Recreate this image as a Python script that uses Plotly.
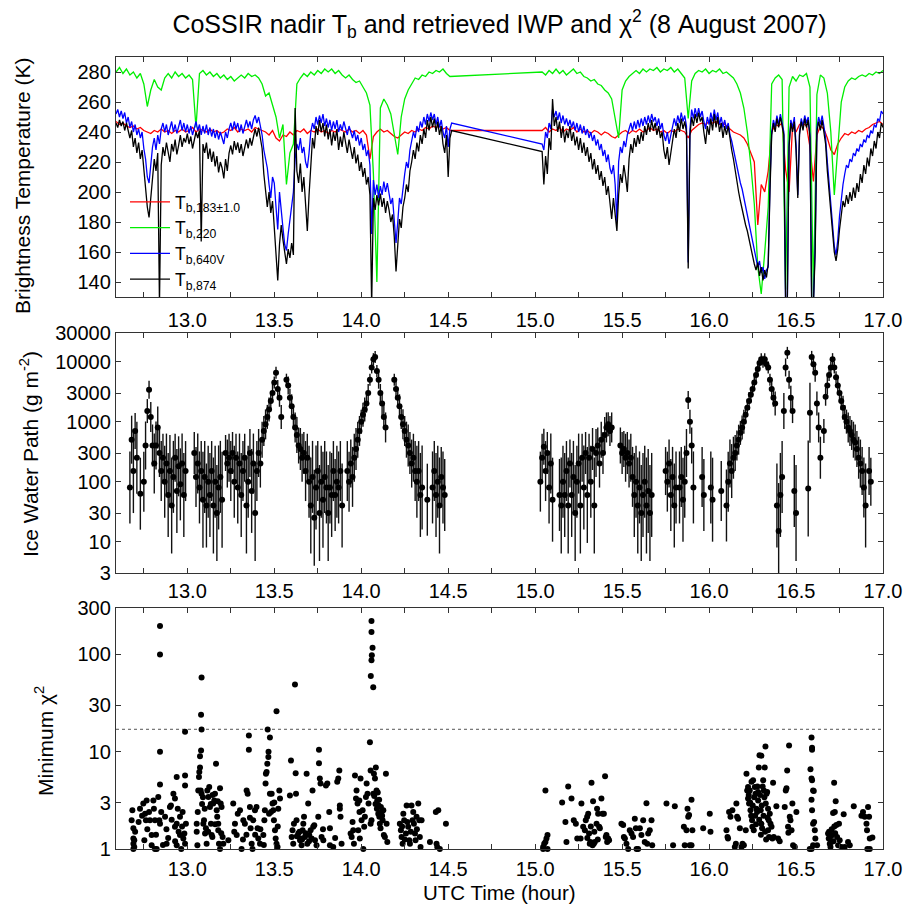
import numpy as np
import plotly.graph_objects as go

# ---------------------------------------------------------------------------
# Nadir brightness temperatures (K).  Two flight legs, uniform sampling.
# ---------------------------------------------------------------------------
SEG1_START = 12.59
SEG2_START = 15.04
STEP_FINE = 0.01     # 640V / 874 GHz channels
STEP_COARSE = 0.02   # 183 / 220 GHz channels

tb874_seg1 = [
    246, 243, 248, 244, 247, 241, 246, 240, 236, 241,
    230, 236, 226, 233, 222, 228, 214, 205, 190, 183,
    196, 212, 222, 214, 226, 125, 218, 230, 224, 233,
    226, 220, 232, 227, 235, 225, 231, 238, 230, 236,
    233, 239, 232, 237, 229, 234, 240, 236, 241, 167,
    232, 226, 233, 222, 229, 220, 227, 217, 224, 213,
    220, 216, 209, 222, 214, 226, 231, 225, 234, 228,
    233, 226, 232, 224, 230, 235, 229, 236, 231, 238,
    242, 237, 243, 236, 229, 212, 198, 190, 200, 186,
    194, 176, 160, 141, 165, 178, 168, 160, 152, 162,
    156, 166, 158, 256, 214, 206, 219, 200, 210, 192,
    174, 198, 222, 236, 229, 244, 238, 248, 240, 246,
    237, 245, 235, 242, 231, 240, 234, 242, 228, 237,
    230, 240, 233, 226, 235, 229, 222, 230, 219, 225,
    214, 220, 210, 216, 205, 210, 198, 125, 196, 188,
    198, 191, 199, 190, 196, 186, 194, 188, 180, 185,
    170, 147, 168, 182, 176, 190, 196, 205, 200, 214,
    220, 228, 222, 233, 227, 238, 232, 242, 236, 248,
    241, 250, 243, 249, 240, 247, 238, 244, 232, 226,
    238, 210, 236, 241]
tb874_seg2 = [
    227, 205, 224, 212, 236, 228, 262, 244, 250, 240,
    247, 236, 244, 233, 241, 236, 244, 234, 240, 231,
    237, 228, 236, 226, 233, 224, 230, 220, 226, 215,
    222, 212, 218, 208, 214, 204, 210, 198, 204, 190,
    182, 196, 186, 174, 198, 212, 206, 218, 210, 200,
    222, 232, 226, 236, 230, 238, 232, 240, 234, 244,
    238, 246, 240, 248, 241, 246, 238, 244, 236, 240,
    228, 222, 230, 218, 226, 234, 242, 236, 246, 240,
    249, 242, 247, 240, 149, 238, 250, 244, 252, 246,
    253, 247, 250, 240, 232, 244, 238, 249, 241, 252,
    243, 250, 240, 246, 236, 244, 238, 244, 234, 228,
    222, 214, 206, 200, 194, 188, 184, 178, 174, 168,
    162, 157, 152, 148, 153, 144, 150, 141, 148, 143,
    152, 200, 238, 246, 240, 249, 243, 250, 244, 238,
    125, 128, 230, 246, 240, 247, 228, 196, 238, 247,
    241, 249, 243, 248, 236, 125, 125, 160, 240, 247,
    241, 248, 240, 232, 214, 200, 186, 172, 160, 154,
    162, 175, 186, 194, 190, 198, 192, 200, 194, 203,
    196, 206, 200, 212, 206, 218, 212, 223, 217, 229,
    224, 234, 229, 240, 236, 246, 243]

tb640_seg1 = [
    252, 255, 250, 254, 249, 253, 246, 250, 243, 247,
    240, 245, 238, 242, 236, 240, 229, 222, 210, 206,
    218, 230, 236, 228, 238, 232, 242, 246, 240, 245,
    238, 243, 247, 240, 245, 239, 244, 248, 241, 246,
    240, 245, 239, 244, 238, 243, 247, 241, 245, 238,
    244, 239, 245, 238, 243, 237, 242, 236, 241, 235,
    240, 236, 232, 240, 236, 242, 246, 241, 247, 242,
    246, 240, 245, 239, 244, 248, 243, 247, 242, 248,
    251, 246, 250, 244, 238, 228, 222, 216, 205, 196,
    210, 206, 190, 175, 200, 190, 176, 165, 161, 172,
    182, 190, 200, 222, 232, 228, 236, 226, 230, 220,
    216, 226, 240, 246, 242, 250, 245, 251, 246, 252,
    244, 249, 243, 248, 241, 247, 242, 248, 240, 245,
    241, 247, 242, 238, 244, 240, 236, 241, 234, 238,
    231, 236, 228, 232, 224, 228, 218, 172, 208, 198,
    205, 196, 204, 198, 207, 200, 206, 199, 192, 196,
    182, 166, 180, 196, 192, 204, 212, 220, 216, 228,
    234, 240, 236, 244, 240, 247, 243, 250, 245, 252,
    247, 253, 248, 252, 245, 250, 243, 248, 240, 236,
    244, 230, 242, 246]
tb640_seg2 = [
    232, 228, 240, 236, 246, 242, 255, 250, 254, 248,
    253, 246, 251, 245, 249, 244, 248, 243, 247, 241,
    246, 240, 245, 239, 244, 238, 242, 236, 240, 234,
    238, 231, 235, 228, 232, 224, 228, 220, 225, 216,
    212, 218, 205, 180, 220, 230, 226, 234, 230, 238,
    242, 246, 241, 247, 242, 248, 243, 249, 244, 250,
    245, 251, 246, 252, 247, 250, 244, 249, 242, 246,
    238, 234, 240, 232, 238, 244, 249, 244, 251, 246,
    253, 247, 251, 244, 153, 242, 255, 249, 256, 250,
    256, 250, 254, 247, 242, 250, 245, 253, 247, 255,
    248, 253, 245, 250, 243, 248, 242, 246, 238, 234,
    228, 222, 216, 212, 206, 202, 196, 190, 184, 178,
    172, 166, 160, 156, 150, 154, 146, 150, 142, 148,
    150, 205, 240, 248, 243, 251, 245, 252, 246, 240,
    125, 126, 232, 248, 243, 250, 232, 198, 240, 249,
    244, 251, 246, 250, 238, 125, 126, 165, 243, 250,
    245, 251, 244, 236, 220, 206, 192, 176, 164, 158,
    168, 184, 196, 205, 212, 218, 216, 222, 220, 226,
    224, 229, 227, 232, 230, 235, 233, 238, 236, 241,
    239, 245, 243, 249, 247, 254, 252]

tb183_seg1 = [
    247, 245, 246, 244, 243, 244, 242, 243, 241, 240,
    239, 241, 240, 242, 240, 241, 239, 241, 240, 242,
    240, 241, 243, 240, 242, 241, 240, 242, 240, 241,
    239, 240, 242, 241, 243, 240, 242, 241, 242, 240,
    243, 242, 241, 240, 238, 241, 236, 234, 238, 237,
    240, 238, 241, 240, 242, 239, 241, 240, 242, 240,
    241, 239, 241, 240, 242, 241, 240, 242, 240, 241,
    239, 241, 238, 222, 237, 240, 242, 240, 241, 239,
    237, 236, 238, 240, 239, 241, 240, 242, 241, 243,
    242, 244, 243, 244, 242, 243, 241]
tb183_seg2 = [
    241, 243, 240, 242, 241, 243, 240, 242, 241, 243,
    240, 242, 240, 241, 239, 241, 240, 238, 240, 239,
    237, 236, 238, 240, 241, 239, 241, 240, 242, 240,
    241, 243, 241, 242, 240, 241, 239, 241, 240, 242,
    241, 240, 236, 241, 243, 245, 246, 245, 247, 246,
    247, 245, 246, 244, 242, 240, 239, 238, 236, 232,
    226, 220, 178, 205, 200, 214, 240, 245, 244, 246,
    215, 200, 244, 240, 245, 246, 244, 230, 207, 238,
    244, 242, 236, 228, 225, 232, 236, 239, 238, 240,
    239, 241, 240, 242, 243, 245, 246, 247, 245]

tb220_seg1 = [
    280, 283, 279, 282, 278, 280, 276, 279, 272, 257,
    268, 275, 270, 268, 276, 279, 276, 280, 277, 279,
    276, 278, 275, 243, 279, 281, 278, 280, 277, 279,
    276, 278, 275, 277, 274, 276, 278, 276, 279, 277,
    278, 276, 272, 264, 266, 258, 250, 236, 245, 205,
    226, 232, 272, 276, 279, 277, 280, 278, 281, 279,
    282, 280, 282, 279, 281, 278, 276, 278, 275, 273,
    274, 270, 266, 258, 212, 140, 256, 262, 258, 252,
    238, 225, 250, 262, 268, 272, 276, 275, 278, 277,
    280, 279, 281, 280, 282, 279, 277]
tb220_seg2 = [
    280, 278, 281, 279, 282, 279, 281, 278, 280, 282,
    279, 280, 277, 276, 274, 275, 272, 271, 268, 266,
    262, 250, 236, 268, 274, 277, 279, 281, 279, 282,
    280, 282, 281, 283, 280, 282, 281, 283, 280, 282,
    279, 276, 249, 274, 279, 281, 280, 282, 279, 281,
    280, 282, 279, 280, 278, 276, 272, 266, 256, 240,
    218, 192, 150, 132, 160, 190, 272, 276, 278, 275,
    135, 270, 277, 274, 278, 277, 279, 270, 130, 265,
    278, 276, 266, 240, 198, 230, 260, 270, 274, 276,
    275, 277, 278, 277, 279, 278, 280, 279, 281]

# ---------------------------------------------------------------------------
# Retrieved ice water path (g m-2) and its uncertainty (decades, +/-).
# None marks samples with no retrieval.
# ---------------------------------------------------------------------------
IWP_SEG1_START = 12.67
IWP_SEG2_START = 15.03
IWP_STEP = 0.01
N = None

iwp_seg1 = [
    80, 500, 150, 700, 250, N, 63, N, 100, 400,
    1500, 3400, 1200, 400, 200, 400, 800, 300, 150, 250,
    100, 200, 60, 150, 40, 120, 250, 70, 180, 90,
    200, 60, 150, N, N, N, N, 300, 120, 200,
    80, 150, 50, 120, 40, 100, 60, 150, 40, 100,
    30, 80, 120, 50, N, 300, 200, 250, 150, 300,
    100, 250, 80, 200, 60, 150, 250, 40, 100, 300,
    70, 200, 30, 150, 300, 200, 500, 700, 900, 1200,
    1600, 2200, 3000, 4500, 6500, 3500, 2500, 1200, N, N,
    5000, 4000, 2500, 1800, 1200, 800, 600, 400, 350, 250,
    300, 150, 250, 100, 40, 120, 25, 80, 150, 30,
    100, 50, 120, 80, 30, 80, 60, 150, 60, 100,
    80, 150, 40, N, N, 150, 100, 200, 120, 250,
    350, 500, 700, 1000, 1300, 1600, 2000, 3000, 5000, 8000,
    11000, 12000, 7000, 5000, 3000, 2000, 1200, 800, N, N,
    N, N, 5000, 3500, 2500, 1800, 1200, 900, 700, 500,
    400, 300, 200, 250, 150, 100, 150, 60, 80, N,
    N, 50, N, N, 80, 150, 60, 100, 40, 120,
    80, 60]
iwp_seg1_dex = [
    .6, .4, .7, .3, .6, N, .6, N, .5, .4,
    .2, .15, .25, .35, .5, .4, .35, .4, .5, .4,
    .6, .5, .7, .6, .8, .6, .4, .7, .5, .6,
    .5, .7, .5, N, N, N, N, .35, .5, .5,
    .6, .5, .8, .6, .7, .6, .7, .5, .8, .6,
    .8, .7, .6, .8, N, .3, .4, .4, .5, .35,
    .6, .4, .6, .5, .7, .5, .4, .8, .6, .4,
    .7, .5, .8, .5, .4, .4, .3, .25, .25, .2,
    .2, .15, .15, .1, .1, .15, .15, .2, N, N,
    .1, .15, .15, .2, .2, .25, .3, .3, .35, .4,
    .35, .5, .4, .6, .8, .6, .8, .7, .5, .8,
    .6, .8, .6, .6, .8, .6, .7, .5, .6, .6,
    .6, .5, .7, N, N, .5, .5, .4, .5, .4,
    .35, .3, .25, .2, .2, .2, .15, .15, .1, .1,
    .1, .1, .1, .15, .15, .2, .2, .25, N, N,
    N, N, .1, .15, .15, .2, .2, .25, .25, .3,
    .35, .35, .4, .4, .5, .6, .5, .7, .7, N,
    N, .6, N, N, .6, .5, .7, .6, .8, .5,
    .6, .6]

iwp_seg2 = [
    100, 250, 380, 150, 300, 80, 200, 50, N, N,
    N, 60, 40, 100, 60, 150, 40, 200, 60, 120,
    30, 100, 200, 40, 250, 80, 300, 60, 250, 100,
    350, 40, 300, 400, 200, 500, 300, 600, 800, 900,
    700, 800, N, N, N, N, 400, 300, 350, 250,
    300, 200, 250, 120, 60, 100, 40, 80, 30, 60,
    100, 40, 70, 30, 60, N, N, N, N, N,
    N, N, 150, 100, 200, 60, 120, 40, 80, N,
    80, 120, 50, 100, 300, 2300, 1000, 400, 80, N,
    N, N, N, 120, 60, N, N, N, 80, 50,
    N, N, N, N, 70, N, N, 40, 100, 200,
    150, 250, 300, 400, 500, 650, 800, 1000, 1300, 1700,
    2200, 2800, 3500, 4500, 6000, 7500, 9500, 11000, 10000, 11000,
    9000, 8000, 5000, 3500, 2500, 2000, 40, 15, 60, 120,
    1500, 8000, 14000, 5000, 2500, 1500, 70, 30, N, N,
    N, N, N, N, 77, 1400, 12000, 9000, 6500, 2000,
    800, 250, N, 700, 2600, 4000, 6000, 8000, 11000, 8000,
    5500, 4000, 3000, 2200, 1700, 1200, 1000, 800, 700, 600,
    500, 450, 350, 250, 200, 150, 80, 40, N, 150,
    100, N]
iwp_seg2_dex = [
    .5, .4, .3, .5, .35, .6, .5, .7, N, N,
    N, .6, .8, .6, .7, .5, .8, .4, .7, .6,
    .8, .6, .5, .8, .4, .7, .35, .8, .4, .6,
    .35, .8, .4, .3, .4, .3, .35, .3, .25, .2,
    .25, .25, N, N, N, N, .3, .35, .3, .4,
    .35, .4, .4, .5, .7, .6, .8, .6, .8, .7,
    .6, .8, .7, .8, .7, N, N, N, N, N,
    N, N, .4, .5, .4, .6, .5, .7, .6, N,
    .6, .5, .7, .6, .4, .15, .2, .3, .6, N,
    N, N, N, .5, .6, N, N, N, .6, .7,
    N, N, N, N, .5, N, N, .6, .5, .4,
    .45, .35, .3, .25, .25, .2, .2, .2, .15, .15,
    .15, .1, .1, .1, .1, .1, .1, .1, .1, .1,
    .1, .1, .1, .15, .15, .2, .7, .8, .7, .6,
    .3, .15, .1, .15, .2, .2, .6, .8, N, N,
    N, N, N, N, .8, .5, .1, .1, .15, .2,
    .25, .35, N, .2, .15, .15, .1, .1, .1, .1,
    .1, .15, .15, .15, .2, .2, .2, .25, .25, .25,
    .3, .3, .3, .35, .4, .4, .5, .7, N, .4,
    .4, N]

# ---------------------------------------------------------------------------
# Minimum chi-square of each retrieval.
# ---------------------------------------------------------------------------
CHI2_THRESHOLD = 17

chi2_time = [
    # 12.66 - 13.00
    12.680, 12.684, 12.690, 12.690, 12.690, 12.690, 12.695, 12.695, 12.728, 12.747,
    12.766, 12.762, 12.757, 12.753, 12.785, 12.795, 12.805, 12.808, 12.814, 12.795,
    12.814, 12.824, 12.833, 12.843, 12.843, 12.843, 12.843, 12.839, 12.843, 12.872,
    12.881, 12.900, 12.906, 12.920, 12.929, 12.939, 12.939, 12.939, 12.929, 12.958,
    12.958, 12.973, 12.977, 12.983, 12.987, 12.987, 12.987, 12.992, 12.987,
    12.700, 12.720, 12.740, 12.770, 12.780, 12.820, 12.850, 12.860, 12.880, 12.890,
    12.910, 12.930, 12.945, 12.950, 12.965, 12.970,
    # 13.04 - 13.21
    13.054, 13.054, 13.058, 13.063, 13.067, 13.069, 13.073, 13.073, 13.079, 13.082,
    13.079, 13.082, 13.077, 13.082, 13.092, 13.096, 13.102, 13.107, 13.111, 13.115,
    13.121, 13.126, 13.130, 13.136, 13.140, 13.144, 13.149, 13.155, 13.159, 13.165,
    13.169, 13.172, 13.178, 13.178, 13.182, 13.188, 13.188, 13.192, 13.197, 13.203,
    13.207,
    13.060, 13.085, 13.090, 13.100, 13.120, 13.135, 13.145, 13.160, 13.175, 13.195,
    # 13.22 - 13.54
    13.236, 13.264, 13.274, 13.284, 13.303, 13.312, 13.322, 13.331, 13.341, 13.347,
    13.354, 13.354, 13.360, 13.364, 13.370, 13.375, 13.379, 13.389, 13.398, 13.404,
    13.408, 13.418, 13.437, 13.443, 13.446, 13.450, 13.452, 13.456, 13.460, 13.466,
    13.467, 13.462, 13.475, 13.475, 13.485, 13.481, 13.490, 13.494, 13.498, 13.504,
    13.508, 13.513, 13.513, 13.519, 13.523, 13.529, 13.533,
    13.270, 13.290, 13.320, 13.340, 13.360, 13.390, 13.420, 13.440, 13.470, 13.500,
    13.520,
    # 13.58 - 13.89
    13.590, 13.596, 13.600, 13.605, 13.609, 13.613, 13.619, 13.623, 13.625, 13.628,
    13.638, 13.648, 13.653, 13.657, 13.663, 13.667, 13.671, 13.676, 13.686, 13.690,
    13.695, 13.701, 13.709, 13.715, 13.720, 13.724, 13.734, 13.743, 13.753, 13.757,
    13.757, 13.762, 13.766, 13.772, 13.782, 13.797, 13.805, 13.816, 13.820, 13.820,
    13.839, 13.862, 13.868, 13.874, 13.877, 13.877, 13.881, 13.887,
    13.630, 13.645, 13.660, 13.680, 13.700, 13.730, 13.780, 13.850,
    # 13.93 - 14.15
    13.939, 13.945, 13.954, 13.958, 13.964, 13.970, 13.973, 13.979, 13.983, 13.989,
    13.992, 13.996, 14.002, 14.008, 14.012, 14.017, 14.021, 14.027, 14.031, 14.036,
    14.042, 14.050, 14.054, 14.054, 14.059, 14.059, 14.059, 14.065, 14.061, 14.059,
    14.055, 14.069, 14.069, 14.073, 14.079, 14.084, 14.088, 14.092, 14.098, 14.104,
    14.107, 14.111, 14.117, 14.123, 14.127, 14.130, 14.136, 14.142, 14.146, 14.150,
    14.075, 14.082, 14.090, 14.095, 14.100, 14.103, 14.113, 14.120, 13.950, 13.990,
    # 14.22 - 14.49
    14.222, 14.228, 14.232, 14.238, 14.242, 14.247, 14.257, 14.261, 14.270, 14.276,
    14.280, 14.289, 14.295, 14.299, 14.303, 14.309, 14.312, 14.318, 14.328, 14.334,
    14.337, 14.341, 14.347, 14.395, 14.429, 14.433, 14.437, 14.443, 14.452, 14.487,
    14.235, 14.250, 14.265, 14.285, 14.320,
    # 15.04 - 15.08
    15.046, 15.052, 15.059, 15.065, 15.071, 15.059, 15.046, 15.071,
    # 15.15 - 15.43
    15.155, 15.174, 15.180, 15.190, 15.209, 15.222, 15.234, 15.242, 15.261, 15.266,
    15.276, 15.286, 15.291, 15.299, 15.305, 15.310, 15.314, 15.318, 15.324, 15.330,
    15.333, 15.337, 15.343, 15.353, 15.356, 15.362, 15.368, 15.372, 15.381, 15.387,
    15.395, 15.402, 15.406, 15.410, 15.414, 15.420, 15.425,
    15.300, 15.320, 15.340, 15.360,
    # 15.49 - 15.68
    15.496, 15.506, 15.510, 15.516, 15.525, 15.535, 15.544, 15.554, 15.563, 15.573,
    15.579, 15.583, 15.592, 15.602, 15.611, 15.621, 15.630, 15.640, 15.644, 15.650,
    15.659, 15.669, 15.673,
    # 15.75 - 16.01
    15.755, 15.803, 15.793, 15.855, 15.860, 15.870, 15.876, 15.880, 15.885, 15.889,
    15.899, 15.899, 15.904, 15.966, 16.004, 16.008,
    # 16.10 - 16.50
    16.100, 16.106, 16.109, 16.115, 16.123, 16.134, 16.148, 16.154, 16.157, 16.161,
    16.167, 16.177, 16.186, 16.192, 16.200, 16.211, 16.215, 16.219, 16.224, 16.224,
    16.230, 16.234, 16.238, 16.244, 16.247, 16.249, 16.253, 16.257, 16.263, 16.267,
    16.272, 16.276, 16.282, 16.282, 16.286, 16.290, 16.301, 16.297, 16.301, 16.305,
    16.311, 16.315, 16.320, 16.324, 16.326, 16.330, 16.334, 16.339, 16.339, 16.343,
    16.345, 16.349, 16.353, 16.359, 16.364, 16.368, 16.372, 16.387, 16.397, 16.406,
    16.435, 16.441, 16.445, 16.449, 16.454, 16.456, 16.460, 16.464, 16.468, 16.474,
    16.479, 16.483, 16.493, 16.502,
    16.228, 16.236, 16.242, 16.251, 16.259, 16.265, 16.270, 16.278, 16.288, 16.293,
    16.298, 16.303, 16.308, 16.313, 16.318, 16.322, 16.328, 16.336,
    # 16.57 - 16.63
    16.579, 16.583, 16.589, 16.592, 16.592, 16.589, 16.592, 16.598, 16.602, 16.589,
    16.592, 16.598, 16.604, 16.608, 16.611, 16.598, 16.621, 16.589,
    # 16.68 - 16.95
    16.684, 16.688, 16.694, 16.698, 16.703, 16.707, 16.713, 16.719, 16.723, 16.728,
    16.732, 16.736, 16.742, 16.747, 16.751, 16.761, 16.774, 16.780, 16.799, 16.809,
    16.832, 16.876, 16.885, 16.895, 16.905, 16.908, 16.914, 16.920, 16.924, 16.939,
    16.910, 16.924,
    16.690, 16.700, 16.705, 16.715, 16.720, 16.725,
]
chi2_value = [
    # 12.66 - 13.00
    1.98, 2.5, 1.63, 1.28, 1.13, 1.0, 1.23, 1.05, 2.6, 2.93,
    3.15, 1.98, 2.3, 1.23, 1.98, 1.39, 3.15, 2.6, 1.98, 1.09,
    1.0, 1.0, 3.43, 4.6, 10, 100, 196, 1.98, 1.82, 2.14,
    1.13, 2.7, 2.8, 3.7, 3.3, 5.5, 1.82, 1.09, 1.69, 2.14,
    1.39, 2.4, 1.28, 1.44, 5.7, 4.5, 16, 1.82, 1.13,
    1.5, 1.9, 2.2, 1.6, 2.4, 1.4, 2.4, 1.1, 1.6, 1.3,
    2.0, 1.2, 2.6, 1.5, 1.0, 1.7,
    # 13.04 - 13.21
    1.5, 1.82, 1.09, 4.0, 5.5, 6.2, 6.9, 9.0, 10.3, 16.9,
    24, 58, 4.0, 3.7, 1.82, 1.98, 1.44, 1.63, 1.13, 4.0,
    3.43, 4.35, 2.7, 1.82, 1.39, 1.33, 2.93, 3.15, 3.7, 7.5,
    2.5, 2.14, 1.82, 1.56, 1.13, 1.0, 4.2, 2.93, 2.7, 1.33,
    1.13,
    2.4, 2.9, 3.4, 2.6, 1.5, 2.9, 3.6, 1.8, 3.1, 1.45,
    # 13.22 - 13.54
    1.23, 2.93, 1.82, 1.39, 2.5, 1.0, 1.98, 1.82, 4.0, 3.7,
    14.7, 10.5, 2.7, 1.63, 1.13, 1.0, 1.98, 2.5, 2.7, 1.63,
    1.28, 1.13, 1.39, 1.98, 2.5, 4.7, 5.95, 6.2, 7.5, 8.8,
    10, 16.9, 14, 3.7, 3.7, 2.4, 2.93, 2.5, 1.98, 1.56,
    1.28, 26, 1.13, 1.05, 2.6, 4.0, 3.3,
    1.5, 2.3, 1.25, 1.4, 2.1, 1.4, 1.6, 1.1, 2.3, 3.0,
    1.7,
    # 13.58 - 13.89
    3.55, 8.1, 1.33, 1.56, 1.13, 1.82, 49, 6.0, 3.7, 1.98,
    1.44, 1.23, 1.28, 1.09, 1.56, 1.82, 2.14, 1.33, 5.95, 1.13,
    2.93, 1.39, 1.56, 1.28, 4.0, 1.69, 1.23, 1.09, 2.14, 10.5,
    7.6, 5.3, 4.7, 1.33, 1.23, 4.5, 4.7, 2.4, 1.63, 1.09,
    1.05, 4.9, 5.3, 6.4, 2.8, 2.6, 2.14, 1.13,
    1.35, 1.5, 1.25, 1.45, 1.2, 1.75, 1.6, 1.3,
    # 13.93 - 14.15
    1.44, 1.33, 1.56, 1.13, 5.7, 3.3, 4.0, 2.93, 1.56, 3.15,
    1.28, 5.3, 1.98, 2.5, 1.0, 1.69, 2.14, 3.43, 4.7, 3.7,
    2.93, 12.5, 6.4, 1.82, 1.98, 220, 170, 117, 98, 87,
    60, 46, 3.7, 5.95, 5.3, 6.9, 4.0, 3.15, 2.3, 2.14,
    1.82, 1.63, 2.4, 1.98, 2.5, 1.39, 1.33, 5.95, 1.82, 1.18,
    3.5, 2.9, 2.6, 3.8, 2.8, 3.2, 2.7, 2.2, 1.9, 2.4,
    # 14.22 - 14.49
    1.82, 1.56, 1.33, 1.13, 2.3, 1.98, 1.44, 2.8, 1.69, 1.23,
    1.13, 2.8, 1.98, 2.4, 1.82, 1.44, 1.23, 2.14, 2.93, 1.98,
    1.33, 1.05, 1.98, 1.18, 2.4, 1.13, 1.05, 2.5, 1.0, 1.82,
    1.7, 1.25, 1.9, 1.5, 1.6,
    # 15.04 - 15.08
    1.05, 1.13, 1.18, 1.28, 1.39, 4.0, 1.0, 1.0,
    # 15.15 - 15.43
    3.0, 1.9, 1.18, 4.4, 3.3, 1.98, 1.82, 1.28, 1.28, 2.93,
    1.69, 1.56, 1.98, 2.14, 2.3, 1.44, 1.13, 1.18, 4.8, 1.09,
    3.1, 1.13, 1.18, 1.82, 2.6, 2.3, 1.69, 1.63, 3.3, 2.3,
    2.3, 5.6, 1.33, 1.39, 1.18, 1.28, 1.23,
    1.3, 1.7, 1.5, 1.25,
    # 15.49 - 15.68
    1.82, 1.76, 1.33, 1.28, 1.13, 1.0, 1.56, 1.44, 1.33, 2.05,
    1.63, 1.0, 1.0, 1.63, 1.39, 1.98, 1.18, 2.95, 1.13, 1.44,
    1.56, 1.98, 1.09,
    # 15.75 - 16.01
    2.93, 2.75, 1.09, 1.69, 1.09, 1.56, 2.6, 2.14, 2.23, 1.09,
    3.2, 1.09, 1.56, 1.63, 2.3, 1.5,
    # 16.10 - 16.50
    1.56, 1.33, 1.28, 2.4, 2.14, 2.5, 1.05, 1.13, 2.93, 2.14,
    2.05, 1.63, 1.05, 1.13, 1.09, 1.56, 5.95, 4.0, 4.35, 3.3,
    2.93, 4.0, 2.5, 4.9, 1.98, 1.69, 5.1, 1.56, 4.35, 3.7,
    2.6, 2.4, 3.85, 3.15, 6.9, 9.2, 9.1, 2.5, 1.82, 1.63,
    5.1, 4.0, 6.9, 11.3, 2.93, 3.7, 3.85, 2.6, 1.56, 1.98,
    1.33, 2.3, 1.82, 1.69, 1.28, 4.8, 1.33, 2.75, 1.28, 1.2,
    2.7, 4.0, 4.2, 6.4, 1.69, 1.47, 11.6, 2.14, 1.98, 1.56,
    2.93, 1.09, 1.05, 2.4,
    3.6, 3.0, 2.2, 2.8, 3.4, 2.2, 1.8, 4.4, 2.0, 3.6,
    1.4, 2.8, 4.4, 2.2, 3.4, 1.5, 1.25, 2.1,
    # 16.57 - 16.63
    1.0, 6.6, 14, 11, 10.5, 5.3, 5.1, 4.0, 3.95, 3.2,
    2.5, 1.82, 1.9, 1.56, 1.28, 1.09, 1.09, 1.0,
    # 16.68 - 16.95
    1.44, 1.28, 1.13, 1.05, 1.18, 1.39, 2.35, 4.8, 2.4, 3.1,
    1.76, 1.33, 1.09, 1.82, 1.23, 1.05, 2.28, 1.05, 1.18, 1.09,
    2.75, 2.2, 2.4, 2.14, 1.82, 1.56, 2.7, 2.14, 1.28, 1.31,
    1.0, 1.0,
    1.5, 1.35, 1.6, 1.2, 1.7, 1.45,
]

# ---------------------------------------------------------------------------
# Helpers
# ---------------------------------------------------------------------------
def sample_times(start, step, n):
    return np.round(start + step * np.arange(n), 3)


def two_legs(start1, vals1, start2, vals2, step):
    t = np.concatenate([sample_times(start1, step, len(vals1)),
                        sample_times(start2, step, len(vals2))])
    return t, list(vals1) + list(vals2)


def valid_iwp(start, vals, dex, step):
    t = sample_times(start, step, len(vals))
    out_t, out_v, up, dn = [], [], [], []
    for ti, v, d in zip(t, vals, dex):
        if v is None or d is None:
            continue
        out_t.append(ti)
        out_v.append(v)
        up.append(v * 10 ** d - v)
        dn.append(v - v / 10 ** d)
    return out_t, out_v, up, dn


FONT = "Liberation Sans, Arial, Helvetica, sans-serif"
X_RANGE = [12.59, 17.0]
PLOT_X = [116 / 907, 883 / 907]
DOM_TB = [1 - 297 / 906, 1 - 57 / 906]
DOM_IWP = [1 - 573 / 906, 1 - 333 / 906]
DOM_CHI = [1 - 849 / 906, 1 - 608 / 906]

fig = go.Figure()

# Brightness temperature panel
channels = [
    ("T<sub>b,183\u00b11.0</sub>", "#ff0000", tb183_seg1, tb183_seg2, STEP_COARSE),
    ("T<sub>b,220</sub>", "#00ee00", tb220_seg1, tb220_seg2, STEP_COARSE),
    ("T<sub>b,640V</sub>", "#0000ff", tb640_seg1, tb640_seg2, STEP_FINE),
    ("T<sub>b,874</sub>", "#000000", tb874_seg1, tb874_seg2, STEP_FINE),
]
for name, color, s1, s2, step in channels:
    t, v = two_legs(SEG1_START, s1, SEG2_START, s2, step)
    fig.add_trace(go.Scatter(
        x=t, y=v, mode="lines", name=name,
        line=dict(color=color, width=1.3),
        xaxis="x", yaxis="y", showlegend=True))

# Ice water path panel
for start, vals, dex in [(IWP_SEG1_START, iwp_seg1, iwp_seg1_dex),
                         (IWP_SEG2_START, iwp_seg2, iwp_seg2_dex)]:
    t, v, up, dn = valid_iwp(start, vals, dex, IWP_STEP)
    fig.add_trace(go.Scatter(
        x=t, y=v, mode="markers",
        marker=dict(color="black", size=6),
        error_y=dict(type="data", symmetric=False, array=up, arrayminus=dn,
                     color="#111111", thickness=1.4, width=0),
        xaxis="x2", yaxis="y2", showlegend=False))

# Minimum chi-square panel
fig.add_trace(go.Scatter(
    x=X_RANGE, y=[CHI2_THRESHOLD, CHI2_THRESHOLD], mode="lines",
    line=dict(color="#555555", width=1, dash="dot"),
    xaxis="x3", yaxis="y3", showlegend=False))
fig.add_trace(go.Scatter(
    x=chi2_time, y=chi2_value, mode="markers",
    marker=dict(color="black", size=6),
    cliponaxis=False,
    xaxis="x3", yaxis="y3", showlegend=False))

axis_style = dict(
    showline=True, linecolor="#333333", linewidth=1.3, mirror="ticks",
    ticks="inside", ticklen=5, tickcolor="#333333", tickwidth=1,
    showgrid=False, zeroline=False, automargin=False,
    tickfont=dict(family=FONT, size=20, color="black"),
)
x_style = dict(axis_style, range=X_RANGE, domain=PLOT_X, tick0=13.0, dtick=0.5,
               tickformat=".1f",
               minor=dict(ticks="inside", ticklen=5, tickcolor="#333333",
                          dtick=0.25, tick0=13.0))

fig.update_layout(
    template="none",
    width=907, height=906,
    margin=dict(l=0, r=0, t=0, b=0, pad=0, autoexpand=False),
    paper_bgcolor="white", plot_bgcolor="white",
    font=dict(family=FONT, size=20, color="black"),
    xaxis=dict(x_style, anchor="y", ticklabelstandoff=5),
    xaxis2=dict(x_style, anchor="y2", ticklabelstandoff=0),
    xaxis3=dict(x_style, anchor="y3", ticklabelstandoff=2),
    yaxis=dict(axis_style, domain=DOM_TB, anchor="x", range=[130, 290],
               tick0=140, dtick=20),
    yaxis2=dict(axis_style, domain=DOM_IWP, anchor="x2", type="log",
                range=[np.log10(3), np.log10(30000)],
                tickvals=[3, 10, 30, 100, 300, 1000, 3000, 10000, 30000],
                ticktext=["3", "10", "30", "100", "300", "1000", "3000",
                          "10000", "30000"]),
    yaxis3=dict(axis_style, domain=DOM_CHI, anchor="x3", type="log",
                range=[0, np.log10(300)],
                tickvals=[1, 3, 10, 30, 100, 300],
                ticktext=["1", "3", "10", "30", "100", "300"]),
    showlegend=True,
    legend=dict(x=125 / 907, y=1 - 184 / 906, xanchor="left", yanchor="top",
                bgcolor="rgba(0,0,0,0)", borderwidth=0,
                font=dict(family=FONT, size=17.5, color="black"),
                tracegroupgap=0, itemwidth=40),
    title=dict(
        text="CoSSIR nadir T<sub>b</sub> and retrieved IWP and \u03c7<sup>2</sup> (8 August 2007)",
        x=499.5 / 907, xanchor="center", y=1 - 24 / 906, yanchor="middle",
        font=dict(family=FONT, size=25, color="black")),
    annotations=[
        dict(text="Brightness Temperature (K)", textangle=-90,
             x=23 / 907, y=1 - 186 / 906, xref="paper", yref="paper",
             xanchor="center", yanchor="middle",
             showarrow=False, font=dict(family=FONT, size=21)),
        dict(text="Ice Water Path (g m<sup>-2</sup>)", textangle=-90,
             x=29 / 907, y=1 - 454 / 906, xref="paper", yref="paper",
             xanchor="center", yanchor="middle",
             showarrow=False, font=dict(family=FONT, size=21)),
        dict(text="Minimum \u03c7<sup>2</sup>", textangle=-90,
             x=44 / 907, y=1 - 741 / 906, xref="paper", yref="paper",
             xanchor="center", yanchor="middle",
             showarrow=False, font=dict(family=FONT, size=21)),
        dict(text="UTC Time (hour)",
             x=499.5 / 907, y=1 - 892 / 906, xref="paper", yref="paper",
             xanchor="center", yanchor="middle",
             showarrow=False, font=dict(family=FONT, size=20.5)),
    ],
)

fig.write_html("out.html", config={"displayModeBar": False})
